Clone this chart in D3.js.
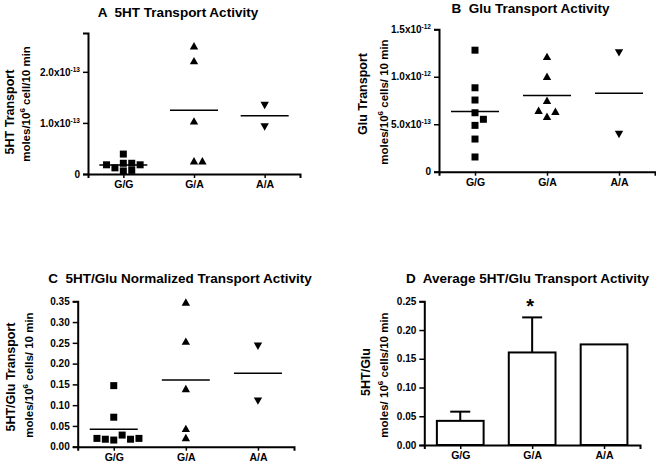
<!DOCTYPE html>
<html><head><meta charset="utf-8">
<script src="https://cdn.jsdelivr.net/npm/d3@7"></script>
<style>
body{margin:0;background:#fff}
svg text{font-family:"Liberation Sans",Arial,Helvetica,sans-serif;font-weight:bold;fill:#000;white-space:pre}
</style></head><body>
<svg id="chart" width="656" height="463"></svg>
<script>
// ---------------- DATA ----------------
const categories = ["G/G", "G/A", "A/A"];

// Panel A: 5HT transport (moles/10^6 cell/10 min)
const serotoninGG = [0.39e-13, 0.06e-13, 0.07e-13, 0.12e-13, 0.21e-13, 0.21e-13, 0.18e-13, 0.18e-13];
const serotoninGA = [2.50e-13, 2.21e-13, 1.03e-13, 0.25e-13, 0.25e-13];
const serotoninAA = [1.35e-13, 0.93e-13];
const ticksA = [0, 1e-13, 2e-13];

// Panel B: Glu transport (moles/10^6 cells/10 min)
const glutamateGG = [12.8e-13, 8.84e-13, 7.55e-13, 6.21e-13, 5.52e-13, 4.88e-13, 3.44e-13, 1.55e-13];
const glutamateGA = [12.1e-13, 10.0e-13, 7.47e-13, 5.79e-13, 6.32e-13, 6.42e-13];
const glutamateAA = [12.57e-13, 3.97e-13];
const ticksB = [0, 5e-13, 1e-12, 1.5e-12];

// Panel C: 5HT/Glu normalized transport
const ratioGG = [0.147, 0.071, 0.016, 0.028, 0.018, 0.018, 0.020, 0.020];
const ratioGA = [0.347, 0.253, 0.139, 0.043, 0.021];
const ratioAA = [0.243, 0.111];
const ticksC = [0, 0.05, 0.10, 0.15, 0.20, 0.25, 0.30, 0.35];

// Panel D: average 5HT/Glu (mean and SEM)
const avgMeans = [0.042, 0.161, 0.175];
const avgSEM = [0.016, 0.061, 0];
const ticksD = [0, 0.05, 0.10, 0.15, 0.20, 0.25];
const significant = [false, true, false];

// ---------------- DRAWING ----------------
const svg = d3.select("#chart");

function sciParts(v) {
  if (v === 0) return null;
  const e = Math.floor(Math.log10(v) + 1e-9);
  const m = v / Math.pow(10, e);
  return { m: m.toFixed(1), e: e };
}

function makePanel(p) {
  const g = svg.append("g");
  const x = d3.scalePoint().domain(categories).range([p.x0, p.x1]).padding(0.5);
  const y = d3.scaleLinear().domain([0, p.yMax]).range([p.y0, p.y1]);

  const ya = g.append("g").attr("transform", `translate(${p.x0},0)`)
    .call(d3.axisLeft(y).tickValues(p.ticks).tickSizeOuter(0).tickSize(5).tickPadding(3)
      .tickFormat(p.sci ? (() => "") : d3.format(".2f")));
  ya.selectAll("text").style("font-size", "10px");
  if (p.sci) {
    ya.selectAll(".tick text").each(function (d) {
      const t = d3.select(this);
      const s = sciParts(d);
      if (!s) { t.text("0"); return; }
      t.append("tspan").text(s.m + "x10");
      t.append("tspan").attr("dy", -4).style("font-size", "6.5px").text(String(s.e));
    });
  }
  ya.select(".domain").attr("stroke-width", 2);
  ya.selectAll(".tick line").attr("stroke-width", 1.5);

  const xa = g.append("g").attr("transform", `translate(0,${p.y0})`)
    .call(d3.axisBottom(x).tickSizeOuter(0).tickSize(4).tickPadding(3));
  xa.selectAll("text").style("font-size", "10.5px");
  xa.select(".domain").attr("stroke-width", 2);
  xa.selectAll(".tick line").attr("stroke-width", 1.5);

  g.append("text").attr("x", p.tx).attr("y", p.ty).attr("text-anchor", "middle")
    .style("font-size", "13.5px").text(p.title);

  g.append("text").attr("transform", `translate(${p.l1x},${p.l1y}) rotate(-90)`)
    .attr("text-anchor", "middle").style("font-size", "12.5px").text(p.label1);
  const l2 = g.append("text").attr("transform", `translate(${p.l2x},${p.l2y}) rotate(-90)`)
    .attr("text-anchor", "middle").style("font-size", "11.5px");
  l2.append("tspan").text(p.label2a);
  l2.append("tspan").attr("dy", -5).style("font-size", "8px").text("6");
  l2.append("tspan").attr("dy", 5).text(p.label2b);
  return { g, x, y };
}

const symbols = {
  square: "M-3.5,-3.5H3.5V3.5H-3.5Z",
  up: "M0,-4.2L4.2,3.2L-4.2,3.2Z",
  down: "M0,4.2L4.2,-3.2L-4.2,-3.2Z"
};

function dodge(values, cx, y) {
  const w = 6.8, h = 4.2;
  const cands = [0];
  for (let i = 1; i < 30; i++) cands.push(i * h, -i * h);
  const placed = [];
  values.forEach(v => {
    const py = y(v);
    let off = 0;
    for (const c of cands) {
      if (!placed.some(q => Math.abs(q.dx - c) < w - 1e-6 && Math.abs(q.y - py) < w - 1e-6)) { off = c; break; }
    }
    placed.push({ v, dx: off, y: py });
  });
  return placed.map(q => ({ x: cx + q.dx, y: q.y }));
}

function scatterPanel(p, groups) {
  const { g, x, y } = makePanel(p);
  groups.forEach((vals, i) => {
    const cat = categories[i];
    const shape = ["square", "up", "down"][i];
    const pts = dodge(vals, x(cat), y);
    g.append("g").selectAll("path").data(pts).join("path")
      .attr("d", symbols[shape])
      .attr("transform", d => `translate(${d.x},${d.y})`)
      .attr("fill", "#000");
    const m = d3.mean(vals);
    g.append("line").attr("x1", x(cat) - 24).attr("x2", x(cat) + 24)
      .attr("y1", y(m)).attr("y2", y(m)).attr("stroke", "#000").attr("stroke-width", 1.5);
  });
}

scatterPanel({
  x0: 88, x1: 300, y0: 174, y1: 33, yMax: 2.76e-13, ticks: ticksA, sci: true,
  title: "A  5HT Transport Activity", tx: 178, ty: 17,
  label1: "5HT Transport", l1x: 13.5, l1y: 112,
  label2a: "moles/10", label2b: " cell/10 min", l2x: 30, l2y: 104
}, [serotoninGG, serotoninGA, serotoninAA]);

scatterPanel({
  x0: 439, x1: 655, y0: 171.7, y1: 29.3, yMax: 1.5e-12, ticks: ticksB, sci: true,
  title: "B  Glu Transport Activity", tx: 530.5, ty: 13,
  label1: "Glu Transport", l1x: 367, l1y: 94,
  label2a: "moles/10", label2b: " cells/ 10 min", l2x: 388, l2y: 102
}, [glutamateGG, glutamateGA, glutamateAA]);

scatterPanel({
  x0: 77.7, x1: 294, y0: 446.7, y1: 301.3, yMax: 0.35, ticks: ticksC, sci: false,
  title: "C  5HT/Glu Normalized Transport Activity", tx: 180, ty: 283,
  label1: "5HT/Glu Transport", l1x: 15, l1y: 377,
  label2a: "moles/10", label2b: " cells/ 10 min", l2x: 33, l2y: 375
}, [ratioGG, ratioGA, ratioAA]);

(function () {
  const p = {
    x0: 424.3, x1: 640, y0: 445, y1: 301.3, yMax: 0.25, ticks: ticksD, sci: false,
    title: "D  Average 5HT/Glu Transport Activity", tx: 527.5, ty: 283,
    label1: "5HT/Glu", l1x: 370, l1y: 372,
    label2a: "moles/ 10", label2b: " cells/10 min", l2x: 388, l2y: 375
  };
  const { g, x, y } = makePanel(p);
  const bw = x.step() * 0.65;
  const rows = categories.map((c, i) => ({ c, m: avgMeans[i], e: avgSEM[i], s: significant[i] }));
  const bars = g.insert("g", ":first-child");
  rows.filter(r => r.e > 0).forEach(r => {
    bars.append("line").attr("x1", x(r.c)).attr("x2", x(r.c))
      .attr("y1", y(r.m)).attr("y2", y(r.m + r.e)).attr("stroke", "#000").attr("stroke-width", 2);
    bars.append("line").attr("x1", x(r.c) - 10).attr("x2", x(r.c) + 10)
      .attr("y1", y(r.m + r.e)).attr("y2", y(r.m + r.e)).attr("stroke", "#000").attr("stroke-width", 2);
  });
  g.append("g").selectAll("rect").data(rows).join("rect")
    .attr("x", d => x(d.c) - bw / 2).attr("width", bw)
    .attr("y", d => y(d.m)).attr("height", d => y(0) - y(d.m))
    .attr("fill", "#fff").attr("stroke", "#000").attr("stroke-width", 2);
  g.append("g").selectAll("text").data(rows.filter(r => r.s)).join("text")
    .attr("x", d => x(d.c) - 2).attr("y", d => y(d.m + d.e) - 4)
    .attr("text-anchor", "middle").style("font-size", "20px").text("*");
})();
</script>
</body></html>
